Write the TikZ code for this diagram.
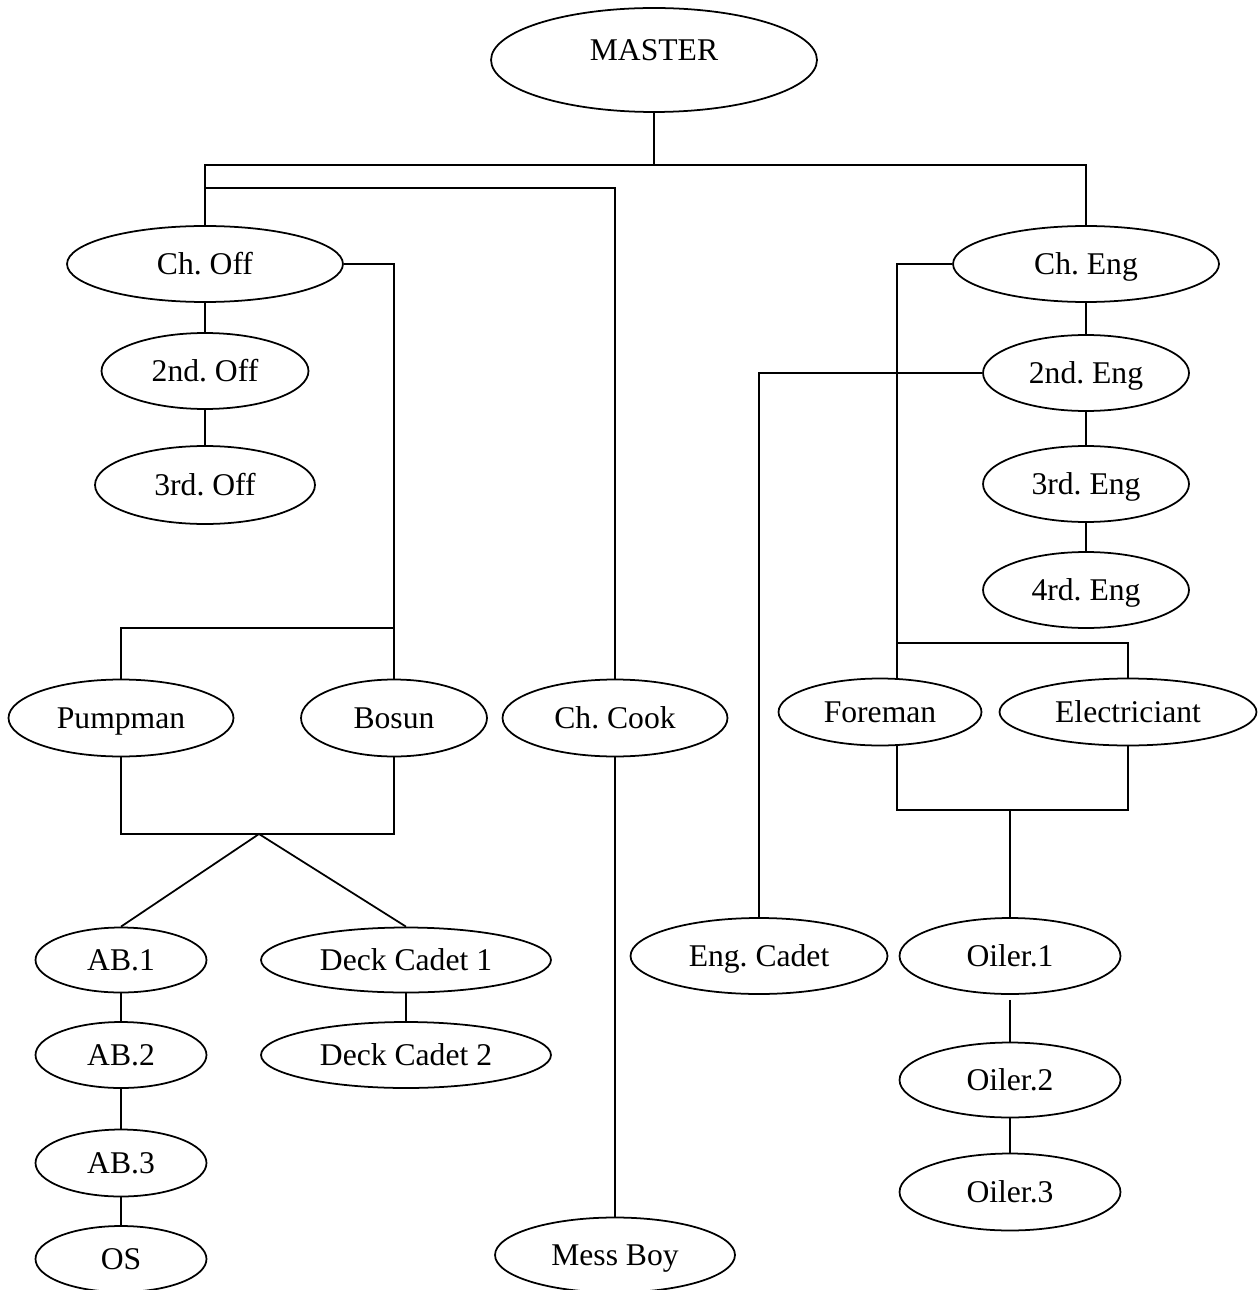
\documentclass[tikz,border=0pt]{standalone}
\usepackage{fontspec}
\setmainfont{Liberation Serif}
\usetikzlibrary{shapes.geometric}
\frenchspacing

\begin{document}
\begin{tikzpicture}[x=0.02cm, y=-0.02cm, line width=1pt,
    post/.style={ellipse, draw, inner sep=0pt, text height=16.5pt, text depth=4pt, font=\fontsize{18}{21}\selectfont}]
    \useasboundingbox (0,0) rectangle (1258,1290);
    % top
    \node[post, minimum width=6.52cm, minimum height=2.08cm, text depth=15.9pt] (master) at (654,60) {MASTER};
    \coordinate (bus) at (654,165);
    \coordinate (cookbus) at (205,188);
    % deck side
    \node[post, minimum width=5.52cm, minimum height=1.52cm] (choff) at (205,264) {Ch. Off};
    \node[post, minimum width=4.14cm, minimum height=1.52cm] (off2) at (205,371) {2nd. Off};
    \node[post, minimum width=4.4cm, minimum height=1.56cm] (off3) at (205,485) {3rd. Off};
    \coordinate (deckbus) at (394,628);
    \node[post, minimum width=4.5cm, minimum height=1.54cm] (pumpman) at (121,718) {Pumpman};
    \node[post, minimum width=3.72cm, minimum height=1.54cm] (bosun) at (394,718) {Bosun};
    \coordinate (split) at (259,834);
    \node[post, minimum width=3.42cm, minimum height=1.3cm] (ab1) at (121,960) {AB.1};
    \node[post, minimum width=3.42cm, minimum height=1.32cm] (ab2) at (121,1055) {AB.2};
    \node[post, minimum width=3.42cm, minimum height=1.34cm] (ab3) at (121,1163) {AB.3};
    \node[post, minimum width=3.42cm, minimum height=1.32cm] (os) at (121,1259) {OS};
    \node[post, minimum width=5.8cm, minimum height=1.3cm] (dcadet1) at (406,960) {Deck Cadet 1};
    \node[post, minimum width=5.8cm, minimum height=1.32cm] (dcadet2) at (406,1055) {Deck Cadet 2};
    % galley
    \node[post, minimum width=4.5cm, minimum height=1.54cm] (chcook) at (615,718) {Ch. Cook};
    \node[post, minimum width=4.8cm, minimum height=1.5cm] (messboy) at (615,1255) {Mess Boy};
    % engine side
    \node[post, minimum width=5.32cm, minimum height=1.52cm] (cheng) at (1086,264) {Ch. Eng};
    \node[post, minimum width=4.12cm, minimum height=1.52cm] (eng2) at (1086,373) {2nd. Eng};
    \node[post, minimum width=4.12cm, minimum height=1.52cm] (eng3) at (1086,484) {3rd. Eng};
    \node[post, minimum width=4.12cm, minimum height=1.52cm] (eng4) at (1086,590) {4rd. Eng};
    \coordinate (trunk) at (897,643);
    \node[post, minimum width=4.06cm, minimum height=1.34cm] (foreman) at (880,712) {Foreman};
    \node[post, minimum width=5.14cm, minimum height=1.34cm] (electric) at (1128,712) {Electriciant};
    \coordinate (engbus) at (1010,810);
    \node[post, minimum width=5.14cm, minimum height=1.52cm] (engcadet) at (759,956) {Eng. Cadet};
    \node[post, minimum width=4.42cm, minimum height=1.52cm] (oiler1) at (1010,956) {Oiler.1};
    \node[post, minimum width=4.42cm, minimum height=1.5cm] (oiler2) at (1010,1080) {Oiler.2};
    \node[post, minimum width=4.42cm, minimum height=1.54cm] (oiler3) at (1010,1192) {Oiler.3};
    % lines
    \draw (master) -- (bus);
    \draw (choff) |- (bus) -| (cheng);
    \draw (cookbus) -| (chcook);
    \draw (chcook) -- (messboy);
    \draw (choff) -- (off2) -- (off3);
    \draw (choff) -| (bosun);
    \draw (pumpman) |- (deckbus);
    \draw (pumpman) |- (split) -| (bosun);
    \draw (ab1.north) -- (split) -- (dcadet1.north);
    \draw (ab1) -- (ab2) -- (ab3) -- (os);
    \draw (dcadet1) -- (dcadet2);
    \draw (cheng) -- (eng2) -- (eng3) -- (eng4);
    \draw (eng2) -| (engcadet);
    \draw (cheng) -| (trunk) -| (electric);
    \draw (trunk) -- (trunk |- foreman.north);
    \draw (trunk |- foreman.south) |- (engbus) -| (electric);
    \draw (engbus) -- (oiler1);
    \draw[shorten <=0.1cm] (oiler1) -- (oiler2);
    \draw (oiler2) -- (oiler3);
\end{tikzpicture}
\end{document}
